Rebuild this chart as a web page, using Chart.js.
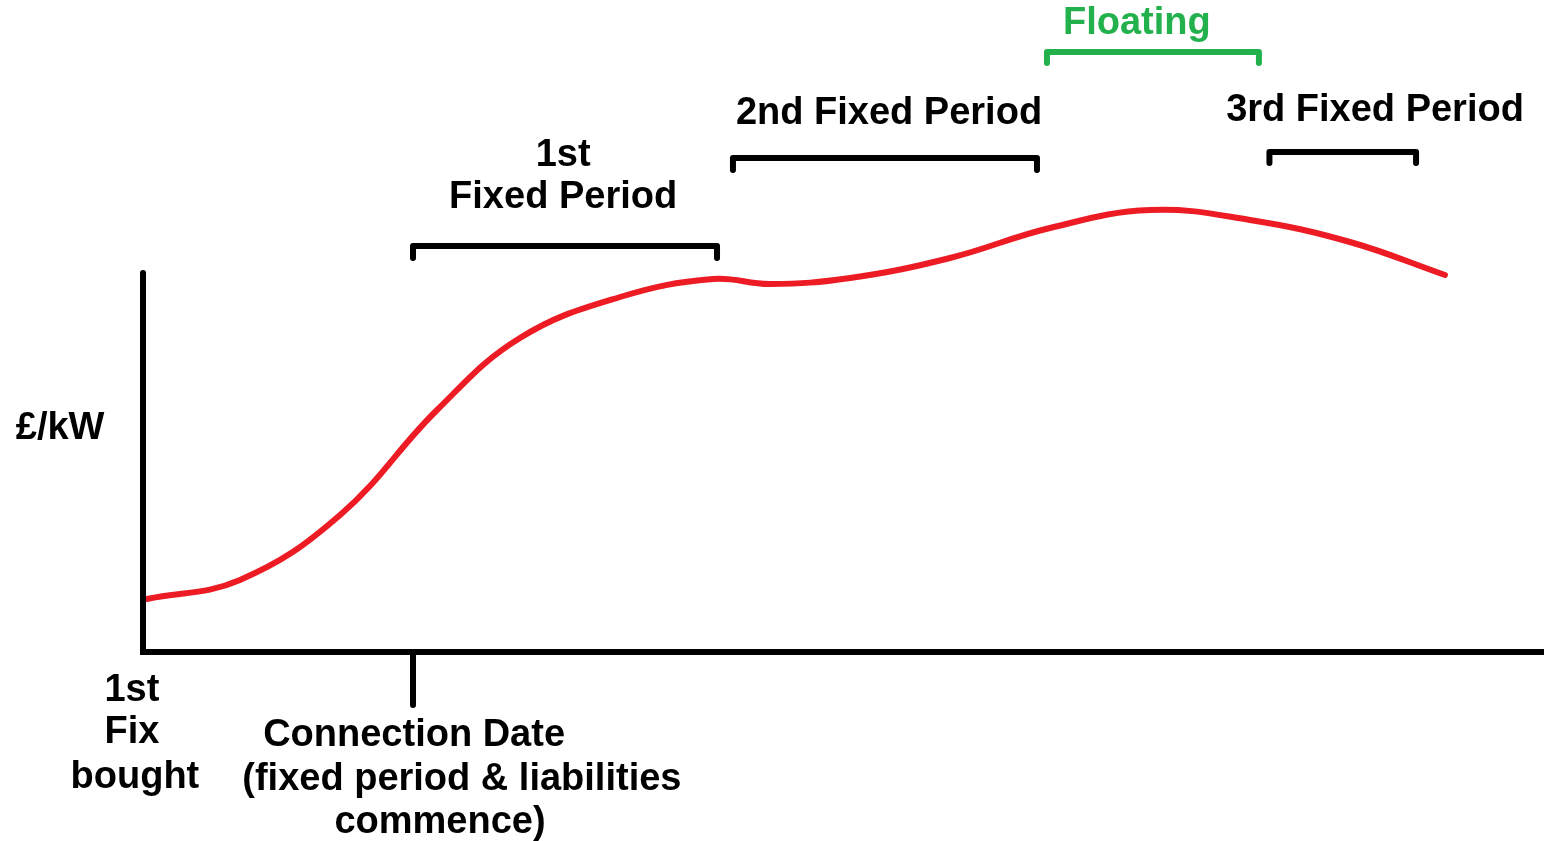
<!DOCTYPE html>
<html><head><meta charset="utf-8">
<script src="https://cdn.jsdelivr.net/npm/chart.js@4"></script>
<style>html,body{margin:0;padding:0;background:#fff;overflow:hidden}</style>
</head><body>
<canvas id="c" width="1544" height="841" style="display:block;width:1544px;height:841px"></canvas>
<script>
// Price curve (£/kW over time; connection date at x = 1)
const priceX = [0.015,0.359,0.730,1.089,1.396,1.767,2.111,2.322,2.619,2.989,3.359,3.730,4.100,4.470,4.822];
const priceY = [13.25,18,34.25,60.5,78.5,88.75,93.25,92,93.5,98.5,106,110.5,108,102.5,94.25];

// Period brackets
const periodNames = ['1st Fixed Period','2nd Fixed Period','Floating','3rd Fixed Period'];
const periodStart = [1.0, 2.185, 3.348, 4.172];
const periodEnd   = [2.126, 3.311, 4.133, 4.715];
const periodTop   = [101.5, 123.5, 150, 125];
const periodDrop  = [3.0, 3.0, 2.75, 2.75];
const periodColor = ['#000000','#000000','#22b14c','#000000'];

// Axes
const axisTopY = 94.75;
const axisRightX = 5.3;
const connectionX = 1;
const connectionTickY = -13.25;

// Text labels
const labelText  = ['Floating','2nd Fixed Period','3rd Fixed Period','1st','Fixed Period','£/kW','1st','Fix','bought','Connection Date','(fixed period & liabilities','commence)'];
const labelX     = [3.681, 2.763, 4.563, 1.556, 1.556, -0.307, -0.041, -0.041, -0.030, 1.004, 1.181, 1.100];
const labelY     = [157.0, 134.6, 135.3, 124.0, 113.5, 55.8, -9.7, -20.2, -31.5, -20.8, -31.8, -42.7];
const labelColor = ['#22b14c','#000','#000','#000','#000','#000','#000','#000','#000','#000','#000','#000'];

const X_MIN = -143/270, X_MAX = (1544-143)/270;
const Y_MIN = -(841-652)/4, Y_MAX = 652/4;

const datasets = [];
datasets.push({
  data: [{x:0,y:axisTopY},{x:0,y:0},{x:axisRightX,y:0}],
  borderColor:'#000', borderWidth:6, borderCapStyle:'round', borderJoinStyle:'miter',
  tension:0, pointRadius:0, showLine:true
});
datasets.push({
  data: [{x:connectionX,y:0},{x:connectionX,y:connectionTickY}],
  borderColor:'#000', borderWidth:6, borderCapStyle:'round', tension:0, pointRadius:0, showLine:true
});
for (let i=0;i<periodNames.length;i++){
  datasets.push({
    label: periodNames[i],
    data: [{x:periodStart[i],y:periodTop[i]-periodDrop[i]},{x:periodStart[i],y:periodTop[i]},{x:periodEnd[i],y:periodTop[i]},{x:periodEnd[i],y:periodTop[i]-periodDrop[i]}],
    borderColor: periodColor[i], borderWidth:6, borderCapStyle:'round', borderJoinStyle:'round',
    tension:0, pointRadius:0, showLine:true
  });
}
datasets.push({
  label:'£/kW',
  data: priceX.map((x,i)=>({x, y:priceY[i]})),
  borderColor:'#ed1c24', borderWidth:6, borderCapStyle:'round', borderJoinStyle:'round',
  tension:0.4, pointRadius:0, showLine:true
});

const textPlugin = {
  id:'labels',
  afterDatasetsDraw(chart){
    const ctx = chart.ctx, sx = chart.scales.x, sy = chart.scales.y;
    ctx.save();
    ctx.font = 'bold 38px "Liberation Sans", Arial, sans-serif';
    ctx.textAlign = 'center';
    ctx.textBaseline = 'middle';
    for (let i=0;i<labelText.length;i++){
      ctx.fillStyle = labelColor[i];
      ctx.fillText(labelText[i], sx.getPixelForValue(labelX[i]), sy.getPixelForValue(labelY[i]));
    }
    ctx.restore();
  }
};

new Chart(document.getElementById('c'), {
  type:'scatter',
  data:{datasets},
  options:{
    responsive:false, animation:false, devicePixelRatio:1,
    layout:{padding:0},
    plugins:{legend:{display:false}, tooltip:{enabled:false}},
    scales:{
      x:{type:'linear', min:X_MIN, max:X_MAX, display:false},
      y:{type:'linear', min:Y_MIN, max:Y_MAX, display:false}
    }
  },
  plugins:[textPlugin]
});
</script>
</body></html>
